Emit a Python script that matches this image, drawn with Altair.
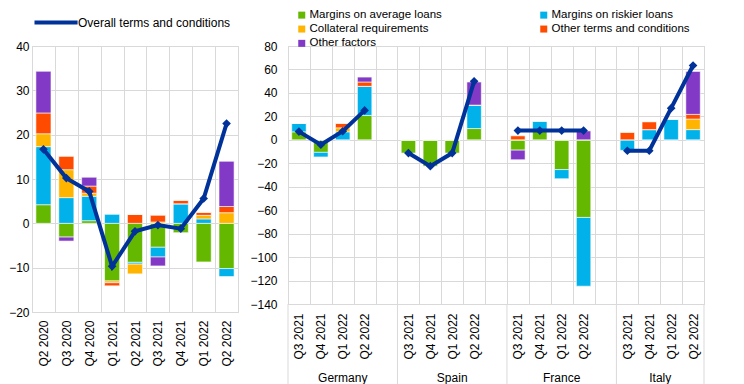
import altair as alt
import pandas as pd

# ---------------- data ----------------
series = ["Margins on average loans", "Margins on riskier loans",
          "Collateral requirements", "Other terms and conditions", "Other factors"]
colors = ["#65b800", "#00b1ea", "#ffb400", "#ff4b00", "#8139c6"]
line_name = "Overall terms and conditions"
line_color = "#003299"
grid_color = "#d9d9d9"

# euro area panel
quarters_ea = ["Q2 2020", "Q3 2020", "Q4 2020", "Q1 2021", "Q2 2021",
               "Q3 2021", "Q4 2021", "Q1 2022", "Q2 2022"]
ea_avg = [4.2, -3.1, 0.6, -13.0, -8.8, -5.4, -2.1, -8.7, -10.2]
ea_risk = [13.1, 5.8, 5.5, 2.1, -0.4, -2.2, 4.4, 1.0, -1.8]
ea_coll = [2.9, 6.3, 0.7, -0.4, -2.2, 0.3, 0.0, 0.8, 2.4]
ea_other_tc = [4.7, 3.0, 1.6, -0.7, 2.0, 1.5, 0.8, 0.7, 1.4]
ea_other_f = [9.4, -0.9, 2.0, 0.0, 0.0, -2.0, 0.0, 0.0, 10.2]
ea_overall = [16.7, 10.2, 7.2, -9.7, -1.8, -0.4, -1.2, 5.6, 22.5]

# country panel
countries = ["Germany", "Spain", "France", "Italy"]
quarters_c = ["Q3 2021", "Q4 2021", "Q1 2022", "Q2 2022"]
de_avg = [6.8, -10.7, 0.0, 20.8]
de_risk = [7.3, -3.9, 6.8, 24.8]
de_coll = [0.0, 0.0, 3.4, 0.0]
de_other_tc = [0.0, 0.0, 3.9, 3.7]
de_other_f = [0.0, 0.0, 0.0, 4.2]
de_overall = [7.0, -4.2, 7.3, 25.1]

es_avg = [-11.3, -22.5, -11.3, 9.6]
es_risk = [0.0, 0.0, 0.0, 20.0]
es_coll = [0.0, 0.0, 0.0, 0.0]
es_other_tc = [0.0, 0.0, 0.0, 0.0]
es_other_f = [0.0, 0.0, 0.0, 19.7]
es_overall = [-11.3, -22.5, -11.3, 49.9]

fr_avg = [-8.8, 8.5, -25.4, -66.2]
fr_risk = [0.0, 7.6, -7.8, -58.6]
fr_coll = [0.0, 0.0, 0.0, 0.0]
fr_other_tc = [3.4, 0.0, 0.0, 0.0]
fr_other_f = [-8.2, 0.0, 0.0, 7.6]
fr_overall = [7.9, 7.9, 7.9, 7.9]

it_avg = [0.0, 0.0, 0.0, 0.0]
it_risk = [-9.0, 8.7, 17.7, 8.7]
it_coll = [0.0, 0.0, 0.0, 9.0]
it_other_tc = [6.5, 6.8, 0.0, 4.0]
it_other_f = [0.0, 0.0, 0.0, 36.6]
it_overall = [-9.3, -9.3, 27.0, 63.4]

# ---------------- tables ----------------
ea_components = [ea_avg, ea_risk, ea_coll, ea_other_tc, ea_other_f]
rows = []
for si, (s, vals) in enumerate(zip(series, ea_components)):
    for q, v in zip(quarters_ea, vals):
        rows.append({"quarter": q, "series": s, "value": v, "order": si})
df_ea = pd.DataFrame(rows)
df_ea_line = pd.DataFrame({"quarter": quarters_ea, "value": ea_overall, "name": line_name})

country_data = {
    "Germany": ([de_avg, de_risk, de_coll, de_other_tc, de_other_f], de_overall),
    "Spain": ([es_avg, es_risk, es_coll, es_other_tc, es_other_f], es_overall),
    "France": ([fr_avg, fr_risk, fr_coll, fr_other_tc, fr_other_f], fr_overall),
    "Italy": ([it_avg, it_risk, it_coll, it_other_tc, it_other_f], it_overall),
}
keys = []
for i, c in enumerate(countries):
    for q in quarters_c:
        keys.append(f"{c}|{q}")
    if i < len(countries) - 1:
        keys.append(f"gap{i}")

rows, lrows = [], []
for c in countries:
    comps, overall = country_data[c]
    for si, (s, vals) in enumerate(zip(series, comps)):
        for q, v in zip(quarters_c, vals):
            rows.append({"key": f"{c}|{q}", "country": c, "series": s, "value": v, "order": si})
    for q, v in zip(quarters_c, overall):
        lrows.append({"key": f"{c}|{q}", "country": c, "value": v})
df_c = pd.DataFrame(rows)
df_c_line = pd.DataFrame(lrows)

df_lab = pd.DataFrame({"key": [f"{c}|Q1 2022" for c in countries[:3]], "country": countries[:3]})
df_lab_it = pd.DataFrame({"key": ["Italy|Q4 2021"], "country": ["Italy"]})
df_sep = pd.DataFrame({"key": [f"{c}|Q3 2021" for c in countries]})
df_sep_end = pd.DataFrame({"key": ["Italy|Q2 2022"]})

# ---------------- sizes ----------------
LW, LH = 206, 266
RW, RH = 416, 258

color_scale = alt.Scale(domain=series, range=colors)

# ---------------- left panel ----------------
x_left = alt.X("quarter:N", title=None,
               scale=alt.Scale(domain=quarters_ea, paddingInner=0, paddingOuter=0),
               axis=alt.Axis(labelAngle=270, labelFontSize=12, labelPadding=8, ticks=False,
                             domain=False, grid=True, tickBand="extent", gridColor=grid_color,
                             labelColor="#000000"))
y_left_axis = alt.Axis(values=list(range(-20, 41, 10)), domain=False, ticks=False,
                       labelPadding=3, labelFontSize=12, gridColor=grid_color,
                       labelColor="#000000", labelOverlap=False)
y_left = alt.Y("value:Q", title=None, scale=alt.Scale(domain=[-20, 40], nice=False),
               axis=y_left_axis)

bars_l = alt.Chart(df_ea).mark_bar(width=alt.RelativeBandSize(0.66), stroke="white",
                                   strokeWidth=0.6).encode(
    x=x_left,
    y=alt.Y("value:Q", stack="zero", title=None,
            scale=alt.Scale(domain=[-20, 40], nice=False), axis=y_left_axis),
    color=alt.Color("series:N", scale=color_scale, legend=None),
    order=alt.Order("order:Q", sort="ascending"),
)
line_l = alt.Chart(df_ea_line).mark_line(strokeWidth=4).encode(
    x=alt.X("quarter:N"),
    y=y_left,
    stroke=alt.Stroke("name:N", scale=alt.Scale(domain=[line_name], range=[line_color]),
                      legend=alt.Legend(orient="none", legendX=-5, legendY=-31, title=None,
                                        symbolType="M0,0H8", symbolSize=116,
                                        symbolStrokeWidth=4, labelFontSize=12,
                                        labelOffset=36, padding=0, labelColor="#000000")),
)
pts_l = alt.Chart(df_ea_line).mark_point(shape="diamond", filled=True, size=75, opacity=1,
                                         color=line_color).encode(
    x=alt.X("quarter:N"), y=y_left)

left = alt.layer(bars_l, line_l, pts_l).properties(width=LW, height=LH)

# ---------------- right panel ----------------
x_right = alt.X("key:N", title=None,
                scale=alt.Scale(domain=keys, paddingInner=0, paddingOuter=0),
                axis=alt.Axis(labelAngle=270, labelFontSize=12, labelPadding=9, ticks=False,
                              domain=False, grid=True, tickBand="extent", gridColor=grid_color,
                              labelColor="#000000",
                              labelExpr="indexof(datum.label, '|') > 0 ? split(datum.label, '|')[1] : ''"))
y_right_axis = alt.Axis(values=list(range(-140, 81, 20)), domain=False, ticks=False,
                        labelPadding=11, labelFontSize=12, gridColor=grid_color,
                        labelColor="#000000", labelOverlap=False)
y_right_scale = alt.Scale(domain=[-140, 80], nice=False)
y_right = alt.Y("value:Q", title=None, scale=y_right_scale, axis=y_right_axis)

bars_r = alt.Chart(df_c).mark_bar(width=alt.RelativeBandSize(0.66), stroke="white",
                                  strokeWidth=0.6).encode(
    x=x_right,
    y=alt.Y("value:Q", stack="zero", title=None, scale=y_right_scale, axis=y_right_axis),
    color=alt.Color("series:N", scale=color_scale,
                    legend=alt.Legend(orient="none", legendX=8, legendY=-37, title=None,
                                      direction="horizontal",
                                      columns=2, columnPadding=96, rowPadding=1.3,
                                      symbolType="square", symbolSize=49,
                                      symbolStrokeWidth=0, labelFontSize=11.5,
                                      labelOffset=2, padding=0, labelColor="#000000")),
    order=alt.Order("order:Q", sort="ascending"),
)
line_r = alt.Chart(df_c_line).mark_line(strokeWidth=4, color=line_color).encode(
    x=alt.X("key:N"), y=y_right, detail="country:N")
pts_r = alt.Chart(df_c_line).mark_point(shape="diamond", filled=True, size=75, opacity=1,
                                        color=line_color).encode(
    x=alt.X("key:N"), y=y_right)

lab_r = alt.Chart(df_lab).mark_text(fontSize=12, baseline="middle", color="#000000").encode(
    x=alt.X("key:N", bandPosition=0.5), y=alt.value(RH + 74), text="country:N")
lab_it = alt.Chart(df_lab_it).mark_text(fontSize=12, baseline="middle", color="#000000").encode(
    x=alt.X("key:N", bandPosition=1), y=alt.value(RH + 74), text="country:N")
sep_r = alt.Chart(df_sep).mark_rule(color=grid_color, strokeWidth=1).encode(
    x=alt.X("key:N", bandPosition=0), y=alt.value(RH), y2=alt.value(RH + 82))
sep_end = alt.Chart(df_sep_end).mark_rule(color=grid_color, strokeWidth=1).encode(
    x=alt.X("key:N", bandPosition=1), y=alt.value(RH), y2=alt.value(RH + 82))

right = alt.layer(bars_r, line_r, pts_r, lab_r, lab_it, sep_r, sep_end).properties(
    width=RW, height=RH)

chart = alt.hconcat(left, right, spacing=50, bounds="flush").resolve_scale(
    x="independent", y="independent", color="independent"
).resolve_legend(color="independent", stroke="independent").properties(
    padding={"left": 0, "top": 0, "right": 5, "bottom": 0}
).configure(font="Liberation Sans").configure_view(
    stroke=grid_color, strokeWidth=1
).configure_axisY(labelOverlap=False)

chart.save("out.html", embed_options={"renderer": "svg", "actions": False})
